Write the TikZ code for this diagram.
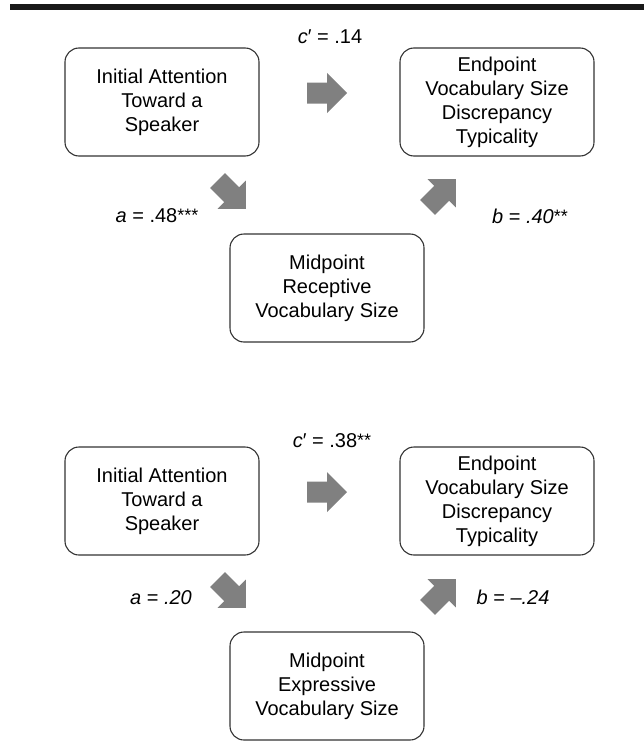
\documentclass[tikz,border=0pt]{standalone}
\usepackage{fontspec}
\setmainfont{Liberation Sans}
\usetikzlibrary{positioning,calc}
\newcommand{\sigstars}[1]{\raisebox{1pt}{\fontsize{18}{18}\selectfont #1}}

\begin{document}
\begin{tikzpicture}[x=1pt, y=1pt, node distance=335pt]
\tikzstyle{box} = [ rectangle, draw=black!80, line width=1.1pt, rounded corners=14pt, minimum width=194pt, minimum height=108pt, align=center, inner sep=0pt, font=\fontsize{20}{24}\selectfont ]
\tikzstyle{coef} = [ inner sep=0pt, font=\fontsize{20}{24}\selectfont ]
\tikzset{blockarrow/.pic={\fill[black!50] (-20,-10.5) -- (0,-10.5) -- (0,-20) -- (20,0) -- (0,20) -- (0,10.5) -- (-20,10.5) -- cycle;}}
\useasboundingbox (0,0) rectangle (644,-752);
\fill[black!90] (10,-4) rectangle (644,-10.5);

% place nodes, top panel
\node [box] (init-1) at (162,-102) {Initial Attention\\Toward a\\Speaker} ;
\node [box, right of=init-1] (end-1) {Endpoint\\Vocabulary Size\\Discrepancy\\Typicality} ;
\node [box] (mid-1) at (327,-288) {Midpoint\\Receptive\\Vocabulary Size} ;

% place nodes, bottom panel
\node [box] (init-2) at (162,-501) {Initial Attention\\Toward a\\Speaker} ;
\node [box, right of=init-2] (end-2) {Endpoint\\Vocabulary Size\\Discrepancy\\Typicality} ;
\node [box] (mid-2) at (327,-686) {Midpoint\\Expressive\\Vocabulary Size} ;

% draw block arrows
\pic at (327,-93) {blockarrow} ;
\pic [rotate=-45] at (231.7,-194.7) {blockarrow} ;
\pic [rotate=45] at (441.7,-193.3) {blockarrow} ;
\pic at (327,-492) {blockarrow} ;
\pic [rotate=-45] at (231.7,-593.7) {blockarrow} ;
\pic [rotate=45] at (441.7,-593.3) {blockarrow} ;

% path coefficients
\node [coef] (c-1) at (330,-37) {\textit{c}′ = .14} ;
\node [coef] (a-1) at (157,-216) {\textit{a} = .48\sigstars{***}} ;
\node [coef] (b-1) at (530,-216) {\textit{b} = \textit{.40}\sigstars{**}} ;
\node [coef] (c-2) at (332,-441) {\textit{c}′ = .38\sigstars{**}} ;
\node [coef] (a-2) at (161,-598) {\textit{a} = \textit{.20}} ;
\node [coef] (b-2) at (513,-597) {\textit{b} = \textit{–.24}} ;

\end{tikzpicture}
\end{document}
